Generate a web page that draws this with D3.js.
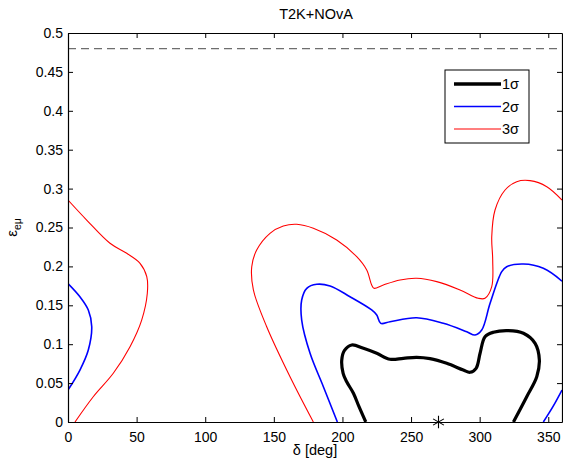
<!DOCTYPE html>
<html>
<head>
<meta charset="utf-8">
<script src="https://cdn.jsdelivr.net/npm/d3@7"></script>
<style>
  html, body { margin: 0; padding: 0; background: #fff; }
  svg { display: block; font-family: "Liberation Sans", Arial, Helvetica, sans-serif; }
</style>
</head>
<body>
<svg id="chart" width="563" height="464"></svg>
<script>
// ---- data ----
const xTicks = [0, 50, 100, 150, 200, 250, 300, 350];
const yTicks = [0, 0.05, 0.1, 0.15, 0.2, 0.25, 0.3, 0.35, 0.4, 0.45, 0.5];
const yTickLabels = ["0", "0.05", "0.1", "0.15", "0.2", "0.25", "0.3", "0.35", "0.4", "0.45", "0.5"];
const boundLevel = 0.48;
const bestFit = [270, 0];

const sigma1 = [
  [217, 0], [212, 0.02], [208, 0.037], [203, 0.052], [200.5, 0.0626], [199.5, 0.0797], [201.5, 0.092],
  [206.8, 0.099], [215.3, 0.0947], [225, 0.0883], [234.7, 0.0806], [244.4, 0.0819],
  [254.1, 0.0831], [263.8, 0.0814], [276, 0.0754], [288.1, 0.0668], [293, 0.0639],
  [297.4, 0.069], [300.3, 0.0883], [303.9, 0.1096], [310, 0.1153], [320.9, 0.1174],
  [331.9, 0.114], [340.4, 0.1011], [343.5, 0.0797], [341.6, 0.0582], [334.3, 0.0325], [324.6, 0]
];
const sigma2Main = [
  [196.3, 0], [186.1, 0.0454], [176.4, 0.0883], [170.3, 0.131], [170.3, 0.1568], [174, 0.1718],
  [181.3, 0.177], [191, 0.1748], [205.5, 0.161], [221.3, 0.144], [225, 0.1375],
  [227.9, 0.1268], [234.7, 0.1289], [254.1, 0.134], [273.5, 0.1268], [290.6, 0.116],
  [296.6, 0.1118], [301.5, 0.1182], [307.6, 0.1525], [316.1, 0.1932], [319.7, 0.1996],
  [331.9, 0.2031], [346.4, 0.1976], [360, 0.181]
];
const sigma2Right = [[346.4, 0], [353.5, 0.02], [360, 0.041]];
const sigma2Left = [
  [0, 0.178], [8.7, 0.161], [14.8, 0.144], [17.3, 0.1225], [14.8, 0.0925], [8.7, 0.0668], [0, 0.041]
];
const sigma3Main = [
  [178.8, 0], [161.8, 0.0582], [144.8, 0.1225], [135.1, 0.1697], [133.9, 0.1996], [137.5, 0.221],
  [147.2, 0.2425], [156.9, 0.2519], [166.7, 0.2541], [178.8, 0.249], [195.8, 0.2339],
  [210.4, 0.2125], [217.7, 0.1954], [221.3, 0.1761], [223, 0.1718], [229.8, 0.1761],
  [242, 0.1825], [254.1, 0.1847], [268.7, 0.1804], [285.7, 0.1697], [299, 0.159],
  [303.9, 0.159], [308.8, 0.1739], [309.5, 0.2082], [308.8, 0.2382], [311.2, 0.2725],
  [318.5, 0.2982], [327, 0.3089], [336.7, 0.3102], [348.9, 0.3025], [360, 0.2853]
];
const sigma3Left = [
  [0, 0.2853], [13.6, 0.2596], [30.6, 0.2297], [42.8, 0.2168], [52.5, 0.204], [57.4, 0.1868],
  [57.8, 0.1654], [53.7, 0.131], [45.2, 0.0968], [33, 0.0626], [18.4, 0.0325], [5.1, 0]
];
const legendLabels = ["1σ", "2σ", "3σ"];
const legendColors = ["#000000", "#0000ff", "#ff0000"];
const legendWidths = [3.4, 1.6, 1.1];

// ---- layout ----
const svg = d3.select("#chart");
const L = 68, R = 562, T = 33, B = 422;
const FONT = "'Liberation Sans', Arial, Helvetica, sans-serif";
const x = d3.scaleLinear().domain([0, 360]).range([L, R]);
const y = d3.scaleLinear().domain([0, 0.5]).range([B, T]);

svg.append("defs").append("clipPath").attr("id", "clip")
  .append("rect").attr("x", L).attr("y", T).attr("width", R - L).attr("height", B - T);

const plot = svg.append("g").attr("clip-path", "url(#clip)");

// dashed bound
plot.append("line")
  .attr("x1", x(0)).attr("x2", x(360))
  .attr("y1", y(boundLevel)).attr("y2", y(boundLevel))
  .attr("stroke", "#6e6e6e").attr("stroke-width", 1.2)
  .attr("stroke-dasharray", "8,5");

const line = d3.line().x(d => x(d[0])).y(d => y(d[1])).curve(d3.curveCatmullRom.alpha(0.5));

const curves = [
  [sigma3Main, 0], [sigma3Left, 0],
  [sigma2Main, 1], [sigma2Right, 1], [sigma2Left, 1],
  [sigma1, 2]
];
const colorsByLevel = ["#ff0000", "#0000ff", "#000000"];
const widthsByLevel = [1.1, 1.6, 3.2];
curves.forEach(([pts, lvl]) => {
  plot.append("path").attr("d", line(pts))
    .attr("fill", "none")
    .attr("stroke", colorsByLevel[lvl])
    .attr("stroke-width", widthsByLevel[lvl])
    .attr("stroke-linejoin", "round");
});

// axes (inward ticks on all sides)
const axStyle = g => {
  g.selectAll("path.domain").attr("stroke", "#000").attr("stroke-width", 1.2);
  g.selectAll(".tick line").attr("stroke", "#000").attr("stroke-width", 1);
  g.selectAll(".tick text").attr("font-size", 14).attr("fill", "#000")
    .attr("font-family", FONT);
};
svg.append("g").attr("transform", `translate(0,${B})`)
  .call(d3.axisBottom(x).tickValues(xTicks).tickSizeInner(-5).tickSizeOuter(0).tickPadding(10))
  .call(axStyle);
svg.append("g").attr("transform", `translate(0,${T})`)
  .call(d3.axisTop(x).tickValues(xTicks).tickSizeInner(-5).tickSizeOuter(0).tickFormat(""))
  .call(axStyle);
svg.append("g").attr("transform", `translate(${L},0)`)
  .call(d3.axisLeft(y).tickValues(yTicks).tickSizeInner(-5).tickSizeOuter(0).tickPadding(5)
    .tickFormat((d, i) => yTickLabels[i]))
  .call(axStyle);
svg.append("g").attr("transform", `translate(${R},0)`)
  .call(d3.axisRight(y).tickValues(yTicks).tickSizeInner(-5).tickSizeOuter(0).tickFormat(""))
  .call(axStyle);

// best-fit asterisk
svg.append("path")
  .attr("d", d3.symbol(d3.symbolAsterisk, 110)())
  .attr("transform", `translate(${x(bestFit[0])},${y(bestFit[1])})`)
  .attr("fill", "none").attr("stroke", "#000").attr("stroke-width", 1.1);

// title & labels
svg.append("text").attr("x", (L + R) / 2 + 1).attr("y", 19).attr("text-anchor", "middle")
  .attr("font-size", 14.5).text("T2K+NOvA");
svg.append("text").attr("x", (L + R) / 2).attr("y", 455).attr("text-anchor", "middle")
  .attr("font-size", 14.5).text("δ [deg]");
const yl = svg.append("text").attr("transform", `translate(17,${(T + B) / 2}) rotate(-90)`)
  .attr("text-anchor", "middle").attr("font-size", 15);
yl.append("tspan").text("ε");
yl.append("tspan").attr("dy", 4).attr("font-size", 10.5).text("eμ");

// legend
const lg = svg.append("g");
lg.append("rect").attr("x", 445).attr("y", 70).attr("width", 84).attr("height", 73)
  .attr("fill", "#fff").attr("stroke", "#000").attr("stroke-width", 1);
legendLabels.forEach((lab, i) => {
  const ly = 84 + i * 22.5;
  lg.append("line").attr("x1", 454).attr("x2", 501).attr("y1", ly).attr("y2", ly)
    .attr("stroke", legendColors[i]).attr("stroke-width", legendWidths[i]);
  lg.append("text").attr("x", 502).attr("y", ly + 5).attr("font-size", 14.5).text(lab);
});
</script>
</body>
</html>
